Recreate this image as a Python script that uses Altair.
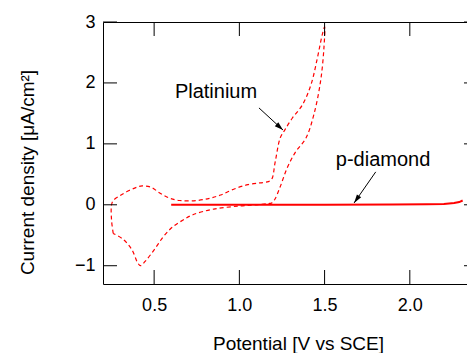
import altair as alt
import pandas as pd

# Platinium cyclic voltammogram (dashed), ordered along the sweep
pt_v = [0.26, 0.25, 0.25, 0.26, 0.30, 0.35, 0.40, 0.43, 0.48, 0.535, 0.59, 0.65, 0.75, 0.83,
        0.89, 0.97, 1.05, 1.12, 1.17, 1.19, 1.21, 1.24, 1.267, 1.31, 1.37, 1.42, 1.457, 1.486,
        1.50, 1.496, 1.476, 1.437, 1.39, 1.33, 1.28, 1.24, 1.21, 1.19, 1.17, 1.10, 1.00, 0.85,
        0.73, 0.67, 0.61, 0.555, 0.50, 0.447, 0.42, 0.405, 0.37, 0.32, 0.26]
pt_i = [-0.47, -0.25, 0.00, 0.07, 0.15, 0.23, 0.29, 0.31, 0.29, 0.19, 0.11, 0.07, 0.07, 0.11,
        0.16, 0.26, 0.33, 0.36, 0.38, 0.42, 0.70, 1.10, 1.23, 1.42, 1.64, 1.97, 2.40, 2.79,
        2.92, 2.57, 2.02, 1.48, 1.09, 0.87, 0.60, 0.30, 0.10, 0.03, 0.02, 0.00, -0.02, -0.07,
        -0.16, -0.25, -0.36, -0.52, -0.74, -0.93, -1.00, -0.96, -0.74, -0.57, -0.47]

# p-diamond (solid)
dia_v = [0.60, 1.00, 1.50, 1.90, 2.10, 2.20, 2.26, 2.29, 2.31]
dia_i = [0.00, 0.00, 0.00, 0.003, 0.008, 0.015, 0.03, 0.045, 0.07]

x_ticks = [0.5, 1.0, 1.5, 2.0]
y_ticks = [-1, 0, 1, 2, 3]

labels = ["Platinium", "p-diamond"]
label_v = [0.863, 1.843]
label_i = [1.85, 0.735]
arrow_v0 = [1.115, 1.80]
arrow_i0 = [1.59, 0.54]
arrow_v1 = [1.256, 1.673]
arrow_i1 = [1.227, 0.03]
arrow_angle = [132, 215]

W, H = 375, 262
FONT = "Liberation Sans"
RED = "#ff0000"

pt = pd.DataFrame({"V": pt_v, "I": pt_i, "k": range(len(pt_v))})
dia = pd.DataFrame({"V": dia_v, "I": dia_i, "k": range(len(dia_v))})
xt = pd.DataFrame({"V": x_ticks})
yt = pd.DataFrame({"I": y_ticks})
ann = pd.DataFrame({"label": labels, "V": label_v, "I": label_i,
                    "V0": arrow_v0, "I0": arrow_i0, "V1": arrow_v1, "I1": arrow_i1,
                    "ang": arrow_angle})

xscale = alt.Scale(domain=[0.2, 2.4], nice=False, zero=False)
yscale = alt.Scale(domain=[-1.3, 3.0], nice=False, zero=False)

xaxis = alt.Axis(values=x_ticks, format=".1f", domain=False, ticks=False, tickSize=0,
                 grid=False, labelPadding=12, labelFont=FONT, labelFontSize=18,
                 labelColor="black", title="Potential [V vs SCE]", titleFont=FONT,
                 titleFontSize=19, titleFontWeight="normal", titleColor="black",
                 titleX=195, titleY=65, titleBaseline="alphabetic", titleAnchor="start",
                 titleAlign="center")
yaxis = alt.Axis(values=y_ticks, format="d", domain=False, ticks=False, tickSize=0,
                 grid=False, labelPadding=8, labelFont=FONT, labelFontSize=18,
                 labelColor="black", title="Current density [μA/cm²]", titleFont=FONT,
                 titleFontSize=19, titleFontWeight="normal", titleColor="black",
                 titleAngle=270, titleX=-70, titleY=150, titleBaseline="alphabetic",
                 titleAlign="center", titleAnchor="start")

pt_line = alt.Chart(pt).mark_line(color=RED, strokeWidth=1.2, strokeDash=[4, 3],
                                  interpolate="catmull-rom").encode(
    x=alt.X("V:Q", scale=xscale, axis=xaxis),
    y=alt.Y("I:Q", scale=yscale, axis=yaxis),
    order="k:Q")

dia_line = alt.Chart(dia).mark_line(color=RED, strokeWidth=2).encode(
    x="V:Q", y="I:Q", order="k:Q")

tick_style = dict(color="black", strokeWidth=1)
bottom_ticks = alt.Chart(xt).mark_rule(**tick_style).encode(
    x="V:Q", y=alt.value(H - 14), y2=alt.value(H))
top_ticks = alt.Chart(xt).mark_rule(**tick_style).encode(
    x="V:Q", y=alt.value(0), y2=alt.value(14))
left_ticks = alt.Chart(yt).mark_rule(**tick_style).encode(
    y="I:Q", x=alt.value(0), x2=alt.value(14))
right_ticks = alt.Chart(yt).mark_rule(**tick_style).encode(
    y="I:Q", x=alt.value(W - 14), x2=alt.value(W))

texts = alt.Chart(ann).mark_text(font=FONT, fontSize=20, color="black",
                                 align="center", baseline="middle").encode(
    x="V:Q", y="I:Q", text="label:N")
arrow_lines = alt.Chart(ann).mark_rule(color="black", strokeWidth=1).encode(
    x="V0:Q", y="I0:Q", x2="V1:Q", y2="I1:Q")
arrow_heads = alt.Chart(ann).mark_point(shape="M0,0L-0.3,1L0.3,1Z", filled=True,
                                        color="black", size=300, opacity=1).encode(
    x="V1:Q", y="I1:Q", angle=alt.Angle("ang:Q", scale=None))

chart = alt.layer(pt_line, dia_line, bottom_ticks, top_ticks, left_ticks, right_ticks,
                  arrow_lines, arrow_heads, texts).properties(
    width=W, height=H,
    autosize=alt.AutoSizeParams(type="none"),
    padding={"left": 103, "top": 22, "right": -11, "bottom": 69},
    background="white",
).configure_view(stroke="black", strokeWidth=1)

chart.save("out.html", embed_options={"renderer": "svg", "actions": False})
